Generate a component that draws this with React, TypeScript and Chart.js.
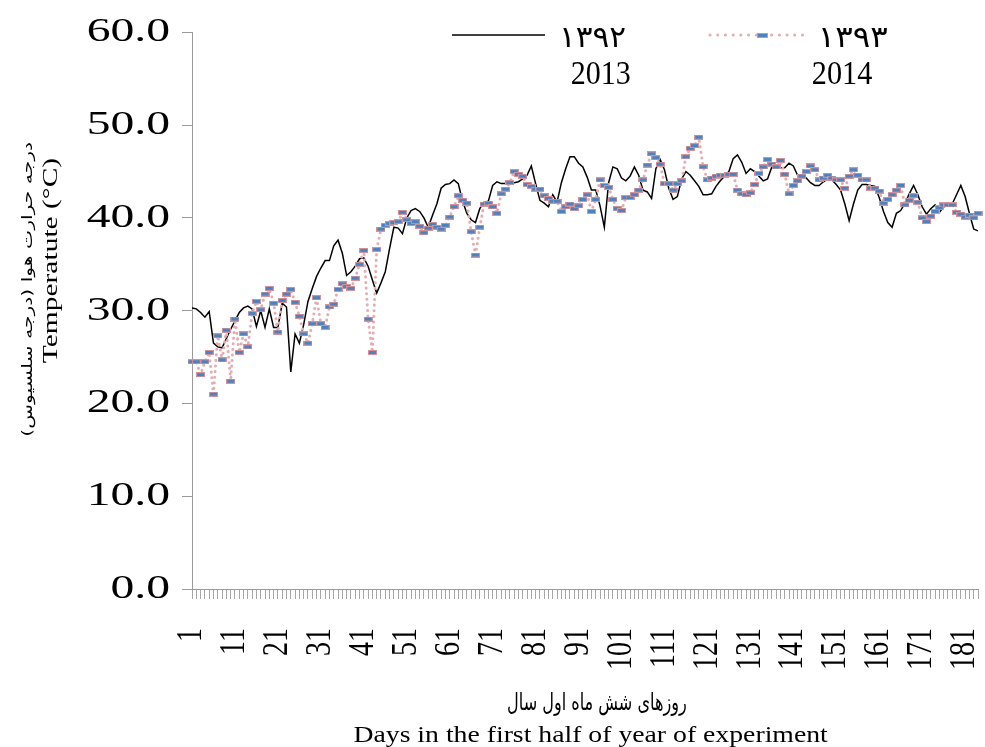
import React, { useEffect, useRef } from 'react';
import { Chart, registerables } from 'chart.js';

Chart.register(...registerables);

// Categories: days 1..184 of the first half of the year
const DAYS: string[] = Array.from({ length: 184 }, (_, i) => String(i + 1));
const X_TICK_LABELS = ['1', '11', '21', '31', '41', '51', '61', '71', '81', '91', '101', '111', '121', '131', '141', '151', '161', '171', '181'];
const Y_TICKS = [0, 10, 20, 30, 40, 50, 60];

// 2013 (1392) daily temperature
const T2013: number[] = [
  30.3, 30.2, 29.8, 29.3, 29.9, 26.5, 26.1, 26.0, 27.0, 28.0,
  28.9, 29.8, 30.3, 30.5, 30.2, 28.3, 30.0, 28.2, 30.2, 28.2,
  28.2, 30.8, 30.4, 23.4, 27.5, 26.5, 28.5, 31.0, 32.4, 33.7,
  34.6, 35.4, 35.4, 37.0, 37.6, 36.2, 33.8, 34.2, 34.8, 35.6,
  35.7, 34.8, 33.3, 31.9, 33.0, 34.2, 36.7, 39.0, 38.9, 38.3,
  40.0, 40.8, 41.0, 40.7, 40.0, 39.0, 40.3, 41.5, 43.2, 43.6,
  43.7, 44.1, 43.7, 41.8, 40.5, 39.8, 39.5, 41.0, 41.7, 41.8,
  43.5, 43.9, 43.7, 43.7, 43.7, 43.8, 43.9, 44.2, 44.6, 45.6,
  43.7, 41.9, 41.6, 41.2, 42.5, 41.7, 43.8, 45.3, 46.6, 46.6,
  45.9, 45.5, 44.4, 43.0, 43.0, 41.3, 39.0, 43.8, 45.5, 45.3,
  44.3, 44.0, 44.5, 45.5, 44.6, 43.0, 42.8, 42.1, 45.3, 46.3,
  45.2, 43.2, 42.0, 42.3, 44.2, 45.0, 44.6, 44.0, 43.4, 42.5,
  42.5, 42.6, 43.4, 44.0, 44.5, 45.0, 46.4, 46.8, 46.0, 44.8,
  45.3, 45.0, 44.5, 44.0, 44.2, 45.5, 45.6, 45.4, 45.4, 45.9,
  45.6, 44.6, 44.4, 44.3, 43.8, 43.5, 43.5, 43.9, 44.2, 44.1,
  43.6, 43.0, 41.5, 39.7, 41.5, 43.0, 43.6, 43.6, 43.5, 43.4,
  42.2, 40.7, 39.5, 39.0, 40.5, 40.8, 41.6, 42.6, 43.5, 42.5,
  41.2, 40.4, 41.0, 41.4, 40.6, 41.2, 41.3, 41.5, 42.5, 43.5,
  42.3, 40.5, 38.8, 38.6,
];

// 2014 (1393) daily temperature
const T2014: number[] = [
  24.5, 24.5, 23.1, 24.5, 25.5, 21.0, 27.3, 24.7, 27.9, 22.4,
  29.1, 25.5, 27.5, 26.1, 29.7, 31.0, 30.1, 31.8, 32.4, 30.8,
  27.7, 31.1, 31.8, 32.3, 30.9, 29.4, 27.5, 26.5, 28.6, 31.4,
  28.6, 28.2, 30.4, 30.7, 32.3, 32.9, 32.6, 32.4, 33.5, 35.0,
  36.5, 29.1, 25.5, 36.6, 38.8, 39.2, 39.4, 39.5, 39.6, 40.6,
  39.8, 39.4, 39.6, 39.1, 38.4, 38.9, 39.3, 39.0, 38.8, 39.2,
  40.1, 41.2, 42.4, 41.9, 41.6, 38.5, 36.0, 39.0, 41.5, 41.6,
  41.2, 40.5, 42.6, 43.1, 43.8, 45.0, 44.7, 44.5, 43.6, 43.4,
  43.1, 43.1, 42.4, 42.1, 41.8, 41.8, 40.7, 41.2, 41.5, 41.0,
  41.3, 42.0, 42.5, 40.7, 42.0, 44.1, 43.5, 43.3, 42.0, 41.0,
  40.8, 42.2, 42.2, 42.5, 43.0, 44.1, 45.7, 46.9, 46.5, 45.8,
  43.7, 43.7, 43.0, 43.7, 44.0, 46.6, 47.5, 47.8, 48.7, 45.5,
  44.1, 44.3, 44.5, 44.6, 44.6, 44.7, 44.7, 43.0, 42.6, 42.5,
  42.7, 43.6, 44.8, 45.5, 46.3, 45.8, 45.5, 46.2, 44.7, 42.6,
  43.5, 44.0, 44.5, 45.0, 45.6, 45.2, 44.1, 44.3, 44.6, 44.3,
  44.1, 44.1, 43.2, 44.5, 45.2, 44.6, 44.1, 44.1, 43.2, 43.2,
  42.9, 41.6, 42.0, 42.5, 43.0, 43.5, 41.4, 41.9, 42.4, 41.7,
  40.0, 39.6, 40.2, 40.7, 41.1, 41.4, 41.4, 41.4, 40.6, 40.4,
  40.1, 40.3, 40.0, 40.5,
];

const LEGEND_FA = ['۱۳۹۲', '۱۳۹۳'];
const LEGEND_EN = ['2013', '2014'];
const Y_TITLE_FA = 'درجه حرارت هوا (درجه سلسیوس)';
const Y_TITLE_EN = 'Temperatute (°C)';
const X_TITLE_FA = 'روزهای شش ماه اول سال';
const X_TITLE_EN = 'Days in the first half of year of experiment';

const SERIF = "'Liberation Serif', 'Times New Roman', serif";
const FA_FONT = "'DejaVu Sans', 'Noto Sans', sans-serif";
const PINK = '#e3aeb2';
const BLUE = '#4f81bd';
const MARKER_EDGE = '#d4939a';

const X_TICK_PAD = 29;
const Y_TICK_PAD = 12;
const TICK_LEN = 10;

// Draw text so that its ink box fills the given box.
function drawBox(
  ctx: CanvasRenderingContext2D, text: string, family: string,
  x0: number, y0: number, x1: number, y1: number, rotate = false, rtl = false,
) {
  ctx.save();
  ctx.font = `100px ${family}`;
  (ctx as any).direction = rtl ? 'rtl' : 'ltr';
  ctx.textAlign = 'left';
  ctx.textBaseline = 'alphabetic';
  const m = ctx.measureText(text);
  const w = m.actualBoundingBoxLeft + m.actualBoundingBoxRight;
  const h = m.actualBoundingBoxAscent + m.actualBoundingBoxDescent;
  const L = rotate ? y1 - y0 : x1 - x0;
  const H = rotate ? x1 - x0 : y1 - y0;
  const k = H / h;
  const sx = L / (w * k);
  ctx.font = `${100 * k}px ${family}`;
  if (rotate) {
    ctx.translate(x0, y1);
    ctx.rotate(-Math.PI / 2);
  } else {
    ctx.translate(x0, y0);
  }
  ctx.scale(sx, 1);
  ctx.fillStyle = '#000';
  ctx.fillText(text, m.actualBoundingBoxLeft * k, m.actualBoundingBoxAscent * k);
  ctx.restore();
}

export default function App() {
  const ref = useRef<HTMLCanvasElement>(null);

  useEffect(() => {
    document.body.style.margin = '0';
    const marker = document.createElement('canvas');
    marker.width = 9;
    marker.height = 5;
    const mc = marker.getContext('2d')!;
    mc.fillStyle = MARKER_EDGE;
    mc.fillRect(0, 0, 9, 5);
    mc.fillStyle = BLUE;
    mc.fillRect(1, 1, 7, 3);

    const legendMarker = document.createElement('canvas');
    legendMarker.width = 11;
    legendMarker.height = 5;
    const lc = legendMarker.getContext('2d')!;
    lc.fillStyle = MARKER_EDGE;
    lc.fillRect(0, 0, 11, 5);
    lc.fillStyle = BLUE;
    lc.fillRect(1, 1, 9, 3);

    const textPlugin = {
      id: 'texts',
      afterUpdate(chart: any) {
        // Stretch tick labels to match the wide/narrow lettering of the reference
        const ys = chart.scales.y;
        if (ys && !ys.__patched) {
          const orig = ys.drawLabels.bind(ys);
          ys.drawLabels = (area: any) => {
            const c = ys.ctx;
            const ax = ys.right - TICK_LEN - Y_TICK_PAD;
            c.save();
            c.translate(ax, 0);
            c.scale(1.4, 1);
            c.translate(-ax, 0);
            orig(area);
            c.restore();
          };
          ys.__patched = true;
        }
        const xs = chart.scales.x;
        if (xs && !xs.__patched) {
          const orig = xs.drawLabels.bind(xs);
          xs.drawLabels = (area: any) => {
            const c = xs.ctx;
            const ay = xs.top + TICK_LEN + X_TICK_PAD;
            c.save();
            c.translate(0, ay);
            c.scale(1, 0.8);
            c.translate(0, -ay);
            orig(area);
            c.restore();
          };
          xs.__patched = true;
        }
      },
      afterDraw(chart: Chart) {
        const ctx = chart.ctx;
        // legend item 1
        ctx.save();
        ctx.strokeStyle = '#000';
        ctx.lineWidth = 1.5;
        ctx.beginPath();
        ctx.moveTo(452, 35);
        ctx.lineTo(545, 35);
        ctx.stroke();
        // legend item 2
        ctx.strokeStyle = PINK;
        ctx.lineWidth = 3;
        ctx.lineCap = 'round';
        ctx.setLineDash([0.1, 7.6]);
        ctx.beginPath();
        ctx.moveTo(710, 35);
        ctx.lineTo(806, 35);
        ctx.stroke();
        ctx.setLineDash([]);
        ctx.drawImage(legendMarker, 757, 33);
        ctx.restore();

        drawBox(ctx, LEGEND_FA[0], FA_FONT, 563, 28, 625, 47);
        drawBox(ctx, LEGEND_EN[0], SERIF, 572, 62, 630, 85);
        drawBox(ctx, LEGEND_FA[1], FA_FONT, 822, 28, 887, 47);
        drawBox(ctx, LEGEND_EN[1], SERIF, 813, 62, 872, 85);

        drawBox(ctx, Y_TITLE_FA, FA_FONT, 21, 143, 35, 435, true, true);
        drawBox(ctx, Y_TITLE_EN, SERIF, 43, 159, 62, 363, true);

        drawBox(ctx, X_TITLE_FA, FA_FONT, 508, 692, 686, 716, false, true);
        drawBox(ctx, X_TITLE_EN, SERIF, 354, 725, 828, 747);
      },
    };

    const chart = new Chart(ref.current!, {
      type: 'line',
      data: {
        labels: DAYS,
        datasets: [
          {
            label: '2013',
            data: T2013,
            borderColor: '#000',
            borderWidth: 1.5,
            pointRadius: 0,
            tension: 0,
            order: 2,
          },
          {
            label: '2014',
            data: T2014,
            borderColor: PINK,
            borderWidth: 3,
            borderDash: [0.1, 5.5],
            borderCapStyle: 'round',
            pointStyle: marker as any,
            pointRadius: 4,
            pointHoverRadius: 4,
            tension: 0,
            order: 1,
          },
        ],
      },
      options: {
        animation: false,
        responsive: true,
        maintainAspectRatio: false,
        events: [],
        layout: { padding: { top: 30, left: 0, right: 0, bottom: 0 } },
        plugins: {
          legend: { display: false },
          tooltip: { enabled: false },
        },
        scales: {
          x: {
            type: 'category',
            offset: false,
            grid: { display: true, drawOnChartArea: false, drawTicks: true, tickLength: TICK_LEN, color: '#a6a6a6', lineWidth: 1 },
            border: { display: true, color: '#9a9a9a', width: 1 },
            ticks: {
              autoSkip: false,
              maxRotation: 90,
              minRotation: 90,
              padding: X_TICK_PAD,
              color: '#000',
              font: { family: SERIF, size: 35 },
              callback: (_v: any, i: number) => (X_TICK_LABELS.includes(DAYS[i]) ? DAYS[i] : ''),
            },
            afterFit: (s: any) => {
              s.height = 158;
              s.paddingLeft = 0;
              s.paddingRight = 0;
            },
          },
          y: {
            min: 0,
            max: 60,
            grid: { display: true, drawOnChartArea: false, drawTicks: true, tickLength: TICK_LEN, color: '#9a9a9a' },
            border: { display: true, color: '#9a9a9a', width: 1 },
            ticks: {
              stepSize: 10,
              padding: Y_TICK_PAD,
              color: '#000',
              font: { family: SERIF, size: 34 },
              callback: (v: any) => (Y_TICKS.includes(Number(v)) ? Number(v).toFixed(1) : ''),
            },
            afterFit: (s: any) => {
              s.width = 192;
            },
          },
        },
      },
      plugins: [textPlugin],
    });
    return () => chart.destroy();
  }, []);

  return (
    <div style={{ width: 985, height: 747, position: 'relative' }}>
      <canvas ref={ref} />
    </div>
  );
}
